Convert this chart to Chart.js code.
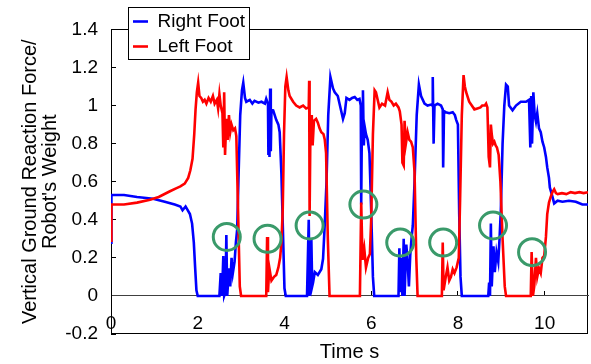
<!DOCTYPE html>
<html>
<head>
<meta charset="utf-8">
<script src="https://cdn.jsdelivr.net/npm/chart.js@4.4.1/dist/chart.umd.min.js"></script>
<style>
  html, body { margin: 0; padding: 0; background: #fff; }
</style>
</head>
<body>
<canvas id="grf" width="591" height="364"></canvas>
<script>
// [time s, force / robot weight]
var rightFoot = [
  [0.00, 0.28], [0.01, 0.53], [0.30, 0.53], [0.60, 0.52], [0.97, 0.51], [1.24, 0.495], [1.47, 0.48], [1.60, 0.47],
  [1.65, 0.45], [1.72, 0.47], [1.82, 0.43], [1.87, 0.38], [1.91, 0.28], [1.94, 0.15], [1.97, 0.03], [2.00, 0],
  [2.50, 0], [2.53, 0.12], [2.56, 0], [2.59, 0.21], [2.61, 0], [2.64, 0.02], [2.66, 0.32], [2.68, 0],
  [2.72, 0.145], [2.75, 0.05], [2.78, 0.2], [2.81, 0.12], [2.85, 0.18], [2.88, 0.28], [2.91, 0.35], [2.94, 0.62],
  [2.98, 0.95], [3.02, 1.08], [3.05, 1.12], [3.09, 1.04], [3.12, 1.02], [3.20, 1.03], [3.26, 1.01], [3.31, 1.025],
  [3.40, 1.015], [3.47, 1.02], [3.55, 1.01], [3.58, 1.035], [3.62, 1.01], [3.63, 0.74], [3.645, 1.0], [3.655, 0.73],
  [3.67, 1.09], [3.685, 0.76], [3.70, 0.98], [3.74, 0.975], [3.81, 0.925], [3.86, 0.9], [3.89, 0.86], [3.93, 0.64],
  [3.97, 0.3], [4.00, 0.04], [4.03, 0], [4.52, 0], [4.56, 0.4], [4.58, 0], [4.62, 0.3], [4.64, 0.05],
  [4.66, 0.07], [4.70, 0.125], [4.77, 0.11], [4.85, 0.14], [4.89, 0.195], [4.93, 0.38], [4.97, 0.6], [5.01, 0.95],
  [5.06, 1.15], [5.12, 1.09], [5.16, 1.07], [5.23, 1.05], [5.31, 0.97], [5.35, 0.93], [5.39, 0.96], [5.43, 1.04],
  [5.50, 1.03], [5.56, 1.04], [5.62, 1.045], [5.68, 1.03], [5.73, 1.035], [5.76, 1.0], [5.77, 0.48], [5.79, 1.0],
  [5.81, 1.08], [5.83, 0.79], [5.85, 0.89], [5.88, 0.85], [5.92, 0.82], [5.96, 0.75], [6.00, 0.45], [6.04, 0.1],
  [6.07, 0], [6.63, 0], [6.65, 0.25], [6.67, 0.02], [6.69, 0.2], [6.72, 0], [6.75, 0.3], [6.77, 0],
  [6.81, 0.27], [6.84, 0.18], [6.87, 0.05], [6.90, 0.21], [6.93, 0.3], [6.96, 0.37], [7.00, 0.6], [7.05, 0.95],
  [7.10, 1.11], [7.15, 1.05], [7.23, 1.01], [7.30, 1.0], [7.38, 1.005], [7.41, 1.0], [7.42, 1.15], [7.44, 0.8],
  [7.46, 1.0], [7.53, 1.01], [7.61, 1.0], [7.65, 0.98], [7.66, 0.675], [7.68, 0.97], [7.72, 0.965], [7.80, 0.96],
  [7.88, 0.965], [7.93, 0.95], [7.96, 0.925], [8.00, 0.9], [8.03, 0.43], [8.06, 0.1], [8.09, 0], [8.70, 0],
  [8.72, 0.07], [8.74, 0], [8.76, 0.38], [8.78, 0.05], [8.82, 0.26], [8.85, 0.125], [8.89, 0.23], [8.93, 0.18],
  [8.96, 0.3], [8.99, 0.45], [9.03, 0.8], [9.07, 1.0], [9.11, 1.11], [9.15, 1.1], [9.18, 1.0], [9.26, 0.975],
  [9.34, 1.0], [9.45, 1.02], [9.57, 1.02], [9.64, 1.03], [9.67, 0.78], [9.69, 1.05], [9.71, 0.8], [9.74, 1.07],
  [9.77, 0.95], [9.80, 0.915], [9.83, 0.96], [9.87, 0.88], [9.91, 0.86], [9.95, 0.81], [9.99, 0.78], [10.03, 0.73],
  [10.06, 0.675], [10.10, 0.62], [10.12, 0.57], [10.17, 0.53], [10.22, 0.486], [10.30, 0.5], [10.41, 0.495], [10.56, 0.5],
  [10.72, 0.495], [10.87, 0.48], [11.00, 0.48]
];

var leftFoot = [
  [0.00, 0.29], [0.01, 0.48], [0.30, 0.48], [0.60, 0.49], [0.90, 0.505], [1.10, 0.52], [1.36, 0.55], [1.50, 0.565],
  [1.60, 0.575], [1.70, 0.59], [1.78, 0.62], [1.83, 0.66], [1.88, 0.72], [1.92, 0.85], [1.95, 0.98], [1.98, 1.07],
  [2.01, 1.12], [2.04, 1.05], [2.08, 1.04], [2.12, 1.02], [2.16, 1.03], [2.20, 1.01], [2.25, 1.04], [2.30, 1.02],
  [2.35, 1.05], [2.39, 1.01], [2.44, 1.03], [2.47, 0.985], [2.50, 1.06], [2.53, 1.0], [2.57, 0.96], [2.59, 0.78],
  [2.61, 1.07], [2.63, 0.74], [2.66, 0.93], [2.69, 0.82], [2.72, 0.95], [2.75, 0.86], [2.78, 0.9], [2.82, 0.87],
  [2.86, 0.88], [2.89, 0.84], [2.93, 0.45], [2.97, 0.05], [3.00, 0], [3.58, 0], [3.60, 0.31], [3.62, 0.02],
  [3.65, 0.15], [3.70, 0.08], [3.76, 0.1], [3.81, 0.11], [3.86, 0.15], [3.90, 0.2], [3.93, 0.28], [3.96, 0.45],
  [3.99, 0.85], [4.02, 1.1], [4.05, 1.15], [4.09, 1.08], [4.12, 1.05], [4.20, 1.02], [4.27, 1.0], [4.35, 0.99],
  [4.43, 1.0], [4.50, 0.985], [4.56, 0.99], [4.57, 1.13], [4.58, 0.42], [4.60, 0.9], [4.63, 0.95], [4.65, 0.79],
  [4.68, 0.92], [4.73, 0.93], [4.77, 0.91], [4.81, 0.88], [4.85, 0.86], [4.90, 0.85], [4.93, 0.82], [4.96, 0.75],
  [5.00, 0.3], [5.04, 0], [5.74, 0], [5.77, 0.49], [5.80, 0.19], [5.84, 0.25], [5.88, 0.15], [5.93, 0.2],
  [5.97, 0.22], [6.00, 0.4], [6.04, 0.85], [6.08, 1.08], [6.11, 1.07], [6.19, 0.99], [6.25, 1.01], [6.32, 1.0],
  [6.38, 1.07], [6.42, 1.03], [6.47, 1.02], [6.52, 1.0], [6.57, 1.01], [6.63, 0.99], [6.66, 0.97], [6.70, 0.9],
  [6.72, 0.7], [6.75, 0.685], [6.77, 0.92], [6.80, 0.8], [6.84, 0.86], [6.88, 0.82], [6.92, 0.81], [6.96, 0.78],
  [7.00, 0.65], [7.04, 0.2], [7.07, 0], [7.63, 0], [7.65, 0.28], [7.67, 0.03], [7.72, 0.1], [7.76, 0.15],
  [7.80, 0.08], [7.84, 0.1], [7.88, 0.14], [7.92, 0.12], [7.97, 0.15], [8.02, 0.2], [8.05, 0.5], [8.09, 0.95],
  [8.13, 1.16], [8.16, 1.1], [8.19, 1.07], [8.26, 1.02], [8.32, 1.0], [8.38, 0.98], [8.45, 0.985], [8.52, 0.99],
  [8.56, 1.0], [8.62, 1.0], [8.65, 1.01], [8.68, 0.99], [8.71, 0.73], [8.74, 0.675], [8.76, 0.9], [8.78, 0.85],
  [8.81, 0.8], [8.84, 0.81], [8.87, 0.79], [8.90, 0.78], [8.94, 0.74], [8.98, 0.6], [9.03, 0.3], [9.08, 0.05],
  [9.11, 0], [9.68, 0], [9.70, 0.23], [9.73, 0], [9.76, 0.05], [9.80, 0.2], [9.83, 0.1], [9.87, 0.145],
  [9.91, 0.12], [9.95, 0.2], [9.99, 0.21], [10.03, 0.31], [10.06, 0.43], [10.10, 0.49], [10.14, 0.52], [10.18, 0.545],
  [10.22, 0.56], [10.26, 0.54], [10.30, 0.535], [10.40, 0.54], [10.50, 0.535], [10.60, 0.545], [10.70, 0.54], [10.80, 0.545],
  [10.90, 0.54], [11.00, 0.545]
];

// green rings marking the touch-down spikes
var markTime = [2.67, 3.61, 4.58, 5.82, 6.67, 7.66, 8.81, 9.71];
var markForce = [0.31, 0.30, 0.37, 0.48, 0.28, 0.28, 0.37, 0.23];

var xTicks = { min: 0, max: 11, step: 2 };
var yTicks = { min: -0.2, max: 1.4, step: 0.2 };

function toPoints(list) {
    return list.map(function (p) { return { x: p[0], y: p[1] }; });
}

var fontFamily = "Arial, 'Liberation Sans', sans-serif";
Chart.defaults.font.family = fontFamily;
Chart.defaults.color = '#000';

// plot frame + white legend box, legend moved to the top-left corner
var frameBox = {
    id: 'frameBox',
    beforeDraw: function (chart) {
        var a = chart.chartArea;
        var c = chart.ctx;
        var lg = chart.legend;
        lg.left = 127; lg.top = 6; lg.width = 123; lg.height = 100;
        lg.right = lg.left + lg.width; lg.bottom = lg.top + lg.height;

        c.save();
        c.strokeStyle = '#000';
        c.lineWidth = 1;
        c.strokeRect(Math.round(a.left) + 0.5, Math.round(a.top) + 0.5, Math.round(a.right - a.left) - 1, Math.round(a.bottom - a.top) - 1);
        c.fillStyle = '#fff';
        c.fillRect(128, 7, 122, 52);
        c.strokeRect(128.5, 7.5, 121, 52);
        c.restore();
    }
};

new Chart(document.getElementById('grf'), {
    type: 'line',
    data: {
        datasets: [{
            label: 'Right Foot',
            data: toPoints(rightFoot),
            borderColor: '#0000ff',
            backgroundColor: '#0000ff',
            borderWidth: 2.6,
            pointRadius: 0,
            tension: 0,
            order: 2
        }, {
            label: 'Left Foot',
            data: toPoints(leftFoot),
            borderColor: '#ff0000',
            backgroundColor: '#ff0000',
            borderWidth: 2.6,
            pointRadius: 0,
            tension: 0,
            order: 1
        }, {
            label: 'marks',
            data: markTime.map(function (t, i) { return { x: t, y: markForce[i] }; }),
            showLine: false,
            pointRadius: 13.5,
            pointHoverRadius: 13.5,
            pointBorderWidth: 3,
            pointBorderColor: '#3a9a6a',
            pointBackgroundColor: 'rgba(0,0,0,0)',
            order: 0
        }]
    },
    options: {
        responsive: false,
        animation: false,
        events: [],
        layout: { autoPadding: false, padding: { top: 24, right: 3, bottom: 0, left: 0 } },
        scales: {
            x: {
                type: 'linear',
                min: xTicks.min,
                max: xTicks.max,
                position: { y: 0 },
                border: { display: true, color: '#404040', width: 1 },
                grid: { drawOnChartArea: false, tickLength: -5, tickColor: '#000' },
                ticks: {
                    stepSize: xTicks.step,
                    includeBounds: false,
                    autoSkip: false,
                    maxRotation: 0,
                    padding: 21,
                    color: '#000',
                    font: { size: 19 }
                },
                afterFit: function (scale) { scale.paddingLeft = 0; scale.paddingRight = 0; }
            },
            y: {
                min: yTicks.min,
                max: yTicks.max,
                border: { display: true, color: '#000', width: 1 },
                grid: { drawOnChartArea: false, tickLength: -5, tickColor: '#000' },
                ticks: {
                    stepSize: yTicks.step,
                    padding: 18,
                    color: '#000',
                    font: { size: 19 },
                    callback: function (v) { return String(Math.round(v * 10) / 10); }
                },
                title: {
                    display: true,
                    text: ['Vertical Ground Reaction Force/', "Robot's Weight"],
                    color: '#000',
                    font: { size: 20, lineHeight: 1 },
                    padding: { top: 20, bottom: 0 }
                },
                afterFit: function (scale) { scale.width = 111; }
            }
        },
        plugins: {
            legend: {
                position: 'chartArea',
                align: 'start',
                labels: {
                    usePointStyle: true,
                    pointStyle: 'line',
                    pointStyleWidth: 15,
                    padding: 6,
                    color: '#000',
                    font: { size: 19 },
                    filter: function (item) { return item.datasetIndex < 2; },
                    sort: function (a, b) { return a.datasetIndex - b.datasetIndex; }
                }
            },
            title: {
                display: true,
                position: 'bottom',
                fullSize: false,
                text: 'Time s',
                color: '#000',
                font: { size: 20, weight: 'normal', lineHeight: 1 },
                padding: { top: 8, bottom: 2 }
            },
            tooltip: { enabled: false }
        }
    },
    plugins: [frameBox]
});
</script>
</body>
</html>
